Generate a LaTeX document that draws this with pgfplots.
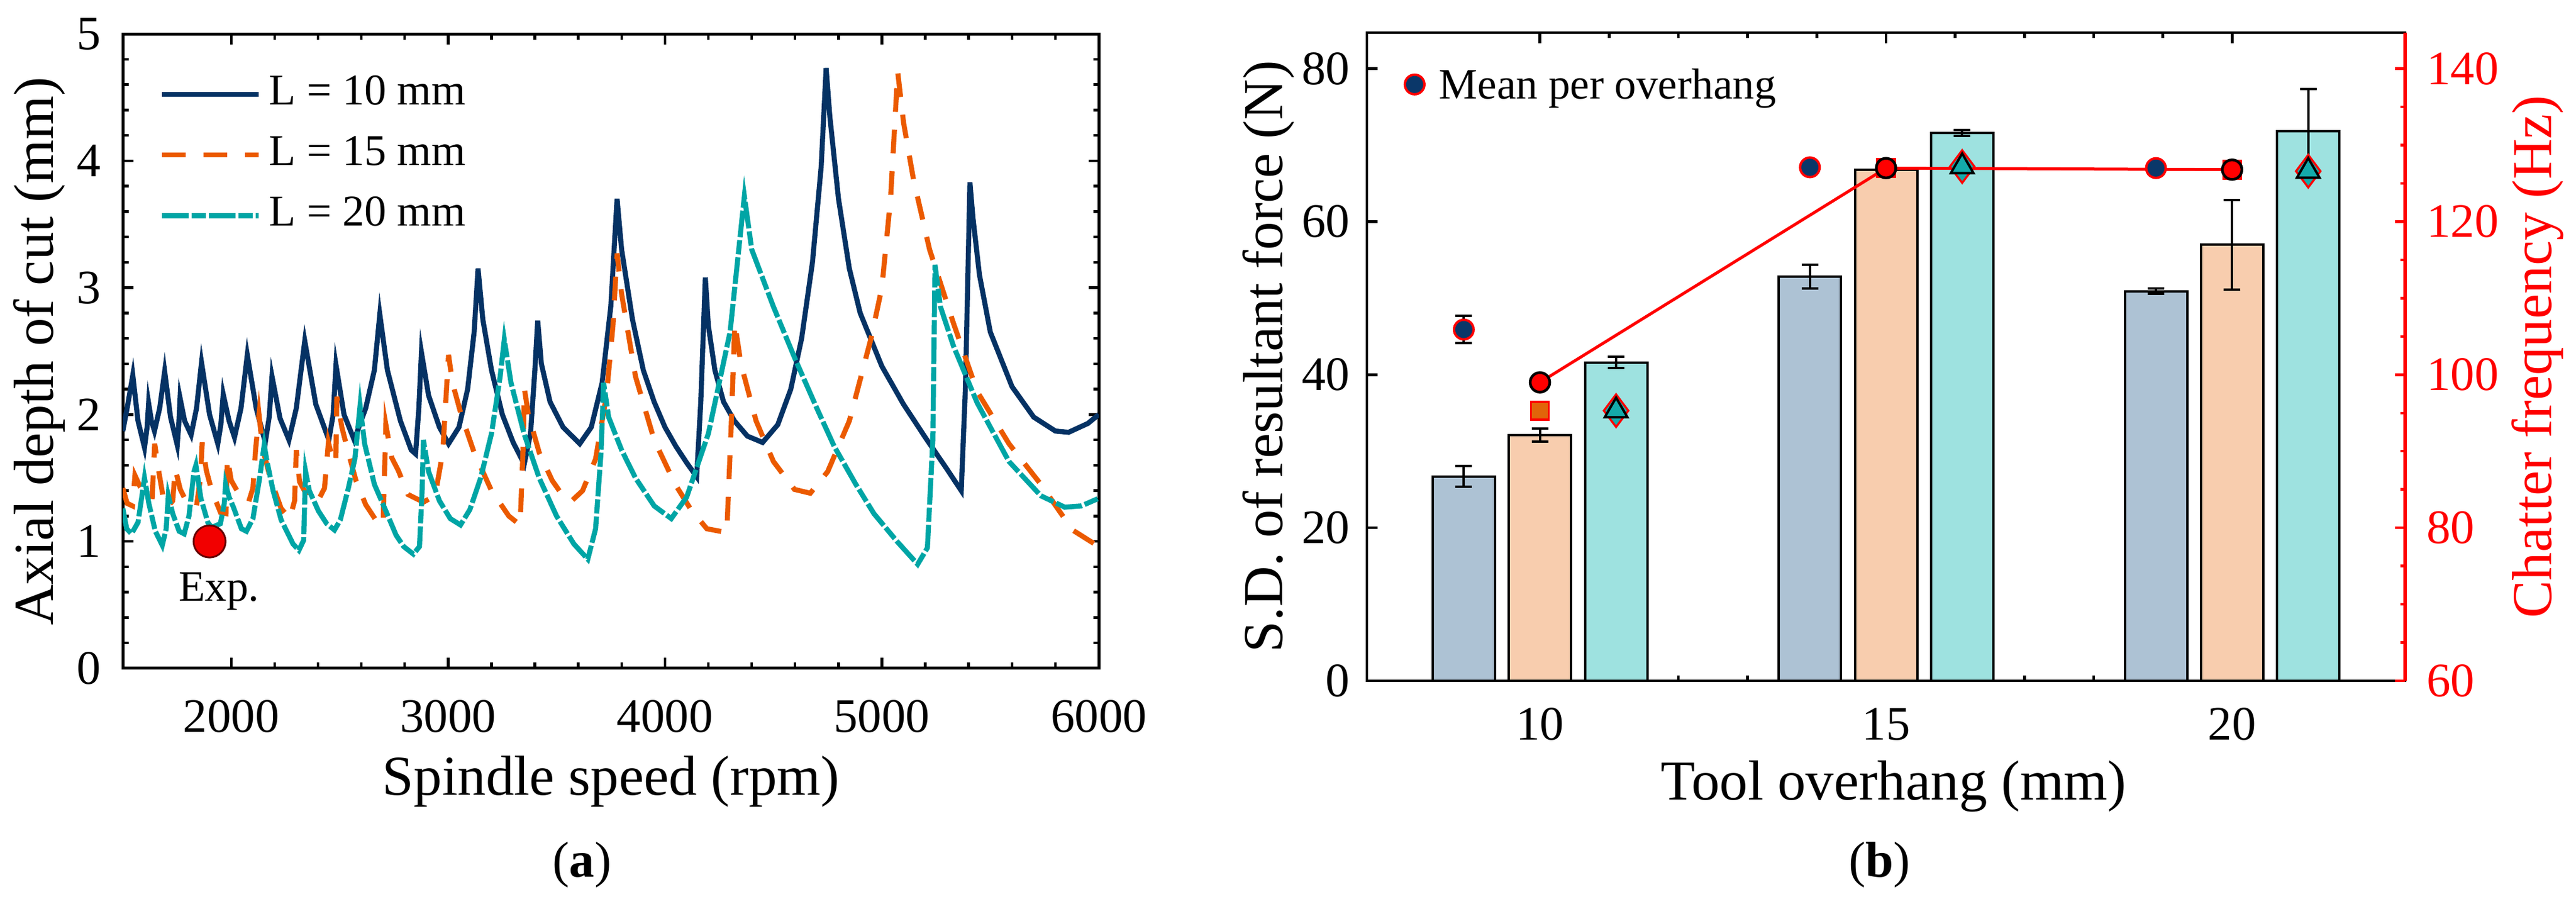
\documentclass[border=0pt]{standalone}
\usepackage{fontspec}
\setmainfont{Liberation Serif}
\usepackage{pgfplots}
\pgfplotsset{compat=1.18}
\definecolor{cblue}{RGB}{5,50,100}
\definecolor{corange}{RGB}{235,90,0}
\definecolor{cteal}{RGB}{0,165,165}
\definecolor{barA}{RGB}{173,194,212}
\definecolor{barB}{RGB}{248,205,174}
\definecolor{barC}{RGB}{158,226,224}
\definecolor{navy}{RGB}{10,55,105}
\definecolor{sqorange}{RGB}{225,100,10}
\definecolor{tealm}{RGB}{20,170,170}
\begin{document}
\begin{tikzpicture}
\useasboundingbox (0,0) rectangle (434.2pt,152.3pt);
% ---------------- (a) ----------------
\begin{axis}[
 at={(20.7pt,39.7pt)}, anchor=south west,
 scale only axis, width=164.5pt, height=106.9pt,
 xmin=1500, xmax=6000, ymin=0, ymax=5,
 xtick={2000,3000,4000,5000,6000}, ytick={0,1,2,3,4,5},
 minor x tick num=4, minor y tick num=4,
 tick align=inside,
 major tick length=1.75pt, minor tick length=0.95pt,
 axis line style={line width=0.5pt},
 tick style={black, line width=0.45pt},
 scaled x ticks=false,
 /pgf/number format/assume math mode=true,
 /pgf/number format/1000 sep={},
 tick label style={font=\fontsize{8.1}{9}\selectfont},
 xticklabel style={inner sep=0pt, anchor=north, yshift=-5.2pt},
 yticklabel style={inner sep=0pt, anchor=east, xshift=-3.5pt},
 legend style={at={(axis description cs:0.0365,0.941)}, anchor=north west,
   draw=none, fill=none, inner sep=0pt, row sep=2.8pt,
   font=\fontsize{7.4}{8}\selectfont, nodes={inner ysep=0.5pt, inner xsep=1.3pt}},
 legend cell align=left,
 legend image code/.code={\draw[#1] (0pt,0pt) -- (16.3pt,0pt);},
]
\addplot[cblue, line width=0.85pt, mark=none] coordinates {
(1500,1.87) (1520,2.05) (1546,2.31) (1570,1.95) (1600,1.74) (1612,1.90) (1619,2.09) (1632,1.95)
(1646,1.87) (1670,2.05) (1693,2.34) (1720,1.98) (1751,1.76) (1758,1.92) (1764,2.13) (1785,1.95)
(1815,1.84) (1840,2.05) (1863,2.41) (1900,2.00) (1938,1.77) (1952,1.92) (1963,2.16) (1990,1.95)
(2015,1.82) (2045,2.05) (2074,2.47) (2115,2.05) (2157,1.78) (2175,1.98) (2188,2.30) (2225,1.97)
(2266,1.80) (2300,2.05) (2339,2.58) (2390,2.08) (2450,1.80) (2470,2.00) (2483,2.39) (2520,2.00)
(2567,1.80) (2620,2.05) (2660,2.35) (2685,2.79) (2720,2.35) (2780,1.95) (2830,1.72) (2850,1.69)
(2865,2.05) (2877,2.49) (2910,2.15) (2960,1.90) (3002,1.77) (3050,1.90) (3090,2.20) (3120,2.65)
(3138,3.15) (3160,2.75) (3200,2.35) (3250,2.00) (3300,1.78) (3351,1.61) (3380,1.85) (3400,2.35)
(3413,2.74) (3430,2.40) (3470,2.10) (3530,1.90) (3607,1.77) (3660,1.90) (3710,2.25) (3750,2.85)
(3779,3.70) (3800,3.30) (3850,2.75) (3900,2.35) (3950,2.10) (4000,1.90) (4050,1.75) (4100,1.62)
(4146,1.51) (4165,2.10) (4186,3.08) (4200,2.70) (4230,2.35) (4270,2.10) (4320,1.95) (4380,1.83)
(4450,1.78) (4520,1.92) (4580,2.20) (4630,2.60) (4680,3.20) (4720,3.95) (4743,4.73) (4760,4.35)
(4800,3.70) (4850,3.15) (4900,2.80) (5000,2.38) (5100,2.08) (5200,1.82) (5300,1.57) (5366,1.40)
(5385,2.20) (5406,3.83) (5420,3.55) (5450,3.10) (5500,2.65) (5600,2.22) (5700,1.98) (5800,1.87)
(5861,1.86) (5950,1.93) (6000,2.00)};
\addlegendentry{L = 10 mm}
\addplot[corange, line width=0.85pt, mark=none, dash pattern=on 4pt off 3pt] coordinates {
(1500,1.42) (1520,1.30) (1545,1.28) (1556,1.52) (1580,1.43) (1610,1.36) (1635,1.33) (1647,1.77)
(1665,1.56) (1685,1.36) (1705,1.27) (1730,1.32) (1742,1.57) (1765,1.41) (1800,1.29) (1840,1.28)
(1858,1.50) (1866,1.78) (1885,1.56) (1910,1.40) (1950,1.23) (1976,1.22) (1982,1.66) (2000,1.48)
(2030,1.39) (2080,1.31) (2100,1.42) (2112,1.72) (2128,2.00) (2145,1.73) (2180,1.50) (2230,1.26)
(2270,1.18) (2292,1.32) (2300,1.72) (2315,1.47) (2360,1.33) (2400,1.32) (2430,1.42) (2448,1.78)
(2470,1.63) (2482,1.62) (2487,2.14) (2510,1.90) (2540,1.70) (2575,1.48) (2620,1.29) (2670,1.16)
(2700,1.13) (2713,1.92) (2740,1.66) (2770,1.56) (2815,1.37) (2886,1.31) (2940,1.36) (2975,1.70)
(3002,2.47) (3020,2.25) (3060,2.00) (3120,1.70) (3200,1.40) (3280,1.20) (3332,1.13) (3345,1.70)
(3352,2.20) (3370,2.00) (3420,1.70) (3480,1.48) (3533,1.35) (3570,1.32) (3620,1.40) (3680,1.65)
(3730,2.15) (3760,2.70) (3779,3.27) (3800,2.95) (3864,2.30) (3950,1.80) (4047,1.45) (4120,1.25)
(4193,1.10) (4285,1.07) (4305,1.90) (4322,2.72) (4350,2.40) (4420,1.95) (4500,1.63) (4597,1.41)
(4670,1.38) (4750,1.55) (4850,1.95) (4950,2.60) (5000,3.00) (5040,3.70) (5073,4.70) (5100,4.30)
(5146,3.85) (5220,3.30) (5330,2.72) (5440,2.18) (5586,1.77) (5733,1.45) (5879,1.09) (6000,0.96)};
\addlegendentry{L = 15 mm}
\addplot[cteal, line width=0.85pt, mark=none, dash pattern=on 4.5pt off 0.5pt on 2.4pt off 0.5pt] coordinates {
(1500,1.26) (1518,1.10) (1540,1.06) (1570,1.15) (1590,1.38) (1600,1.50) (1620,1.30) (1650,1.08)
(1682,0.97) (1700,1.10) (1710,1.36) (1730,1.22) (1760,1.08) (1783,1.06) (1805,1.20) (1828,1.55)
(1837,1.60) (1860,1.34) (1892,1.15) (1910,1.11) (1950,1.14) (1968,1.30) (1974,1.45) (1990,1.35)
(2010,1.27) (2047,1.10) (2070,1.08) (2100,1.18) (2130,1.49) (2152,1.76) (2165,1.63) (2193,1.40)
(2230,1.17) (2285,0.98) (2312,0.93) (2334,1.01) (2340,1.40) (2343,1.55) (2360,1.40) (2402,1.24)
(2440,1.14) (2476,1.09) (2503,1.17) (2540,1.42) (2570,1.65) (2594,2.07) (2615,1.77) (2660,1.45)
(2713,1.24) (2760,1.05) (2795,0.96) (2840,0.90) (2868,0.96) (2880,1.40) (2886,1.80) (2910,1.55)
(2960,1.32) (3010,1.18) (3057,1.13) (3100,1.25) (3150,1.50) (3200,1.85) (3240,2.30) (3259,2.59)
(3290,2.25) (3350,1.85) (3420,1.50) (3500,1.20) (3580,0.98) (3644,0.86) (3680,1.10) (3705,1.70)
(3717,2.25) (3740,1.98) (3800,1.72) (3864,1.50) (3950,1.28) (4029,1.18) (4100,1.35) (4200,1.85)
(4300,2.65) (4366,3.72) (4400,3.30) (4500,2.85) (4597,2.45) (4700,2.05) (4780,1.75) (4880,1.45)
(4963,1.22) (5070,1.00) (5165,0.82) (5210,0.95) (5235,1.80) (5245,3.18) (5270,2.85) (5330,2.54)
(5440,2.09) (5586,1.63) (5733,1.36) (5843,1.27) (5920,1.28) (6000,1.34)};
\addlegendentry{L = 20 mm}
\addplot[forget plot, only marks, mark=*, mark size=2.7pt,
  mark options={fill=red!95!black, draw=black!60!red, line width=0.3pt}] coordinates {(1900,1.0)};
\node[anchor=base, font=\fontsize{7.3}{8}\selectfont] at (axis cs:1943,0.53) {Exp.};
\end{axis}
% ---------------- (b) bars ----------------
\begin{axis}[
 at={(230.4pt,37.6pt)}, anchor=south west,
 scale only axis, width=175.0pt, height=109.2pt,
 xmin=7.5, xmax=22.5, ymin=0, ymax=84.7,
 xtick={10,15,20}, minor x tick num=4,
 ytick={0,20,40,60,80}, ytick pos=left,
 tick align=inside,
 major tick length=1.75pt, minor tick length=0.9pt,
 axis line style={line width=0.45pt},
 tick style={black, line width=0.45pt},
 /pgf/number format/assume math mode=true,
 tick label style={font=\fontsize{8.1}{9}\selectfont},
 xticklabel style={inner sep=0pt, anchor=north, yshift=-4.4pt},
 yticklabel style={inner sep=0pt, anchor=east, xshift=-2.7pt},
 error bars/error mark=|,
 error bars/error bar style={black, line width=0.4pt},
 error bars/error mark options={black, mark size=1.4pt, line width=0.4pt},
]
\addplot[ybar, bar width=0.9, bar shift=0pt, fill=barA, draw=black, line width=0.4pt,
  error bars/.cd, y dir=both, y explicit] coordinates {
  (8.9,26.7) +- (0,1.35) (13.9,52.8) +- (0,1.55) (18.9,50.9) +- (0,0.35)};
\addplot[ybar, bar width=0.9, bar shift=0pt, fill=barB, draw=black, line width=0.4pt,
  error bars/.cd, y dir=both, y explicit] coordinates {
  (10,32.1) +- (0,0.85) (15,66.8) +- (0,0.4) (20,57.0) +- (0,5.85)};
\addplot[ybar, bar width=0.9, bar shift=0pt, fill=barC, draw=black, line width=0.4pt,
  error bars/.cd, y dir=both, y explicit] coordinates {
  (11.1,41.6) +- (0,0.75) (16.1,71.6) +- (0,0.4) (21.1,71.8) +- (0,5.5)};
\end{axis}
% ---------------- (b) chatter frequency ----------------
\begin{axis}[
 at={(230.4pt,37.6pt)}, anchor=south west,
 scale only axis, width=175.0pt, height=109.2pt,
 xmin=7.5, xmax=22.5, ymin=60, ymax=144.7,
 axis x line=none, axis y line*=right,
 ytick={60,80,100,120,140}, minor y tick num=3,
 tick align=inside,
 major tick length=1.75pt, minor tick length=0.8pt,
 y axis line style={red, line width=0.55pt},
 tick style={red, line width=0.45pt},
 /pgf/number format/assume math mode=true,
 tick label style={font=\fontsize{8.1}{9}\selectfont},
 yticklabel style={red, inner sep=0pt, anchor=west, xshift=3.4pt},
 error bars/error mark=|,
 error bars/error bar style={black, line width=0.4pt},
 error bars/error mark options={black, mark size=1.4pt, line width=0.4pt},
 legend style={at={(axis description cs:0.0354,0.951)}, anchor=north west,
   draw=none, fill=none, inner sep=0pt,
   font=\fontsize{7.3}{8}\selectfont, nodes={inner ysep=0.5pt, inner xsep=2.5pt}},
 legend cell align=left,
 legend image code/.code={\draw[#1] plot coordinates {(1.7pt,0.6pt)};},
]
\addplot[forget plot, only marks, mark=square*, mark size=1.5pt,
  mark options={fill=sqorange, draw=red, line width=0.35pt},
  error bars/.cd, y dir=both, y explicit] coordinates {
  (10,95.3) +- (0,0.15) (15,127.0) +- (0,0.15) (20,126.8) +- (0,0.15)};
\addplot[forget plot, only marks, mark=diamond*, mark size=2.75pt,
  mark options={fill=tealm, draw=red, line width=0.35pt}] coordinates {
  (11.1,95.3) (16.1,127.2) (21.1,126.6)};
\addplot[forget plot, only marks, mark=triangle*, mark size=2.2pt,
  mark options={fill=tealm, draw=black, line width=0.4pt},
  error bars/.cd, y dir=both, y explicit] coordinates {
  (11.1,95.3) +- (0,0.15) (16.1,127.2) +- (0,0.15) (21.1,126.6) +- (0,0.15)};
\addplot[only marks, mark=*, mark size=1.65pt,
  mark options={fill=navy, draw=red, line width=0.4pt},
  error bars/.cd, y dir=both, y explicit] coordinates {
  (8.9,105.9) +- (0,1.8) (13.9,127.1) +- (0,0.2) (18.9,127.0) +- (0,0.2)};
\addlegendentry{Mean per overhang}
\addplot[forget plot, red, line width=0.5pt, mark=*, mark size=1.65pt,
  mark options={fill=red, draw=black, line width=0.45pt},
  error bars/.cd, y dir=both, y explicit] coordinates {
  (10,99.0) +- (0,0) (15,127.0) +- (0,0.5) (20,126.8) +- (0,0.6)};
\end{axis}
% ---------------- labels ----------------
\node[rotate=90, anchor=base, font=\fontsize{9.5}{10}\selectfont] at (9.0pt,93.1pt) {Axial depth of cut (mm)};
\node[anchor=base, font=\fontsize{9.5}{10}\selectfont] at (103.0pt,18.3pt) {Spindle speed (rpm)};
\node[anchor=base, font=\fontsize{8.5}{9}\selectfont] at (98.1pt,4.5pt) {(\textbf{a})};
\node[rotate=90, anchor=base, font=\fontsize{9.5}{10}\selectfont] at (216.1pt,92.2pt) {S.D. of resultant force (N)};
\node[rotate=90, anchor=base, text=red, font=\fontsize{9.5}{10}\selectfont] at (430.0pt,92.2pt) {Chatter frequency (Hz)};
\node[anchor=base, font=\fontsize{9.5}{10}\selectfont] at (319.2pt,17.5pt) {Tool overhang (mm)};
\node[anchor=base, font=\fontsize{8.5}{9}\selectfont] at (316.8pt,4.5pt) {(\textbf{b})};
\end{tikzpicture}
\end{document}
